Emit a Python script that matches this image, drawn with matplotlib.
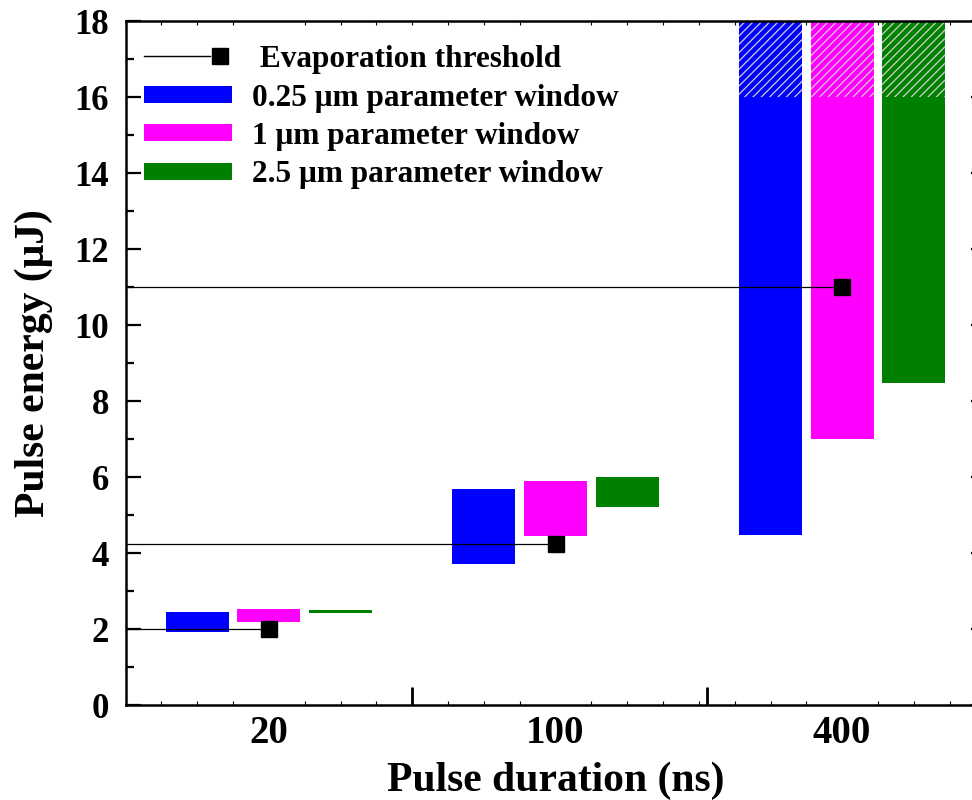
import matplotlib
matplotlib.use("Agg")
import matplotlib.pyplot as plt
from matplotlib.lines import Line2D
from matplotlib.patches import Patch
from matplotlib.legend_handler import HandlerBase
import numpy as np

# ---- data ----
durations = ["20", "100", "400"]
thresholds = [2.0, 4.25, 11.0]
series_labels = ["0.25 \u03bcm parameter window", "1 \u03bcm parameter window", "2.5 \u03bcm parameter window"]
series_colors = ["#0000ff", "#ff00ff", "#008000"]
low_025 = [1.93, 3.71, 4.47]
high_025 = [2.45, 5.68, 16.0]
low_1 = [2.19, 4.45, 7.0]
high_1 = [2.52, 5.90, 16.0]
low_25 = [2.42, 5.20, 8.47]
high_25 = [2.50, 6.01, 16.0]
hatched_top = [np.nan, np.nan, 18.0]   # open-ended part of the window

lows = [low_025, low_1, low_25]
highs = [high_025, high_1, high_25]

plt.rcParams["font.family"] = ["Liberation Serif", "DejaVu Serif"]
plt.rcParams["font.weight"] = "bold"
plt.rcParams["hatch.linewidth"] = 0.9

fig = plt.figure(figsize=(9.72, 8.0), dpi=100)
ax = fig.add_axes([125.5 / 972, 95 / 800, 860 / 972, 684 / 800])

x = np.arange(len(durations))
offsets = [-0.25, 0.0, 0.25]
width = 0.22

for lo, hi, off, col, lab in zip(lows, highs, offsets, series_colors, series_labels):
    lo = np.array(lo); hi = np.array(hi)
    ax.bar(x + off, hi - lo, bottom=lo, width=width, color=col, linewidth=0, zorder=2, label=lab)
    top = np.array(hatched_top)
    ax.bar(x + off, top - hi, bottom=hi, width=width, color=col, edgecolor="#d0d0d0",
           linewidth=0, hatch="////", zorder=2)

xmin = -0.5
ax.hlines(thresholds, xmin, x, color="black", linewidth=0.9, zorder=3)
ax.plot(x, thresholds, linestyle="none", marker="s", markersize=11, color="black", zorder=4)

ax.set_xlim(-0.5, 2.5)
ax.set_ylim(0, 18)

ax.set_yticks(np.arange(0, 19, 2))
ax.set_yticks(np.arange(1, 18, 2), minor=True)
ax.set_xticks(x, durations)
ax.set_xticks(np.arange(-0.5, 2.51, 0.125), minor=True)

ax.tick_params(axis="y", which="major", direction="in", length=11, width=1.6, labelsize=25, pad=12,
               right=True)
ax.tick_params(axis="y", which="minor", direction="in", length=6, width=1.6, right=True)
ax.tick_params(axis="x", which="major", length=0, labelsize=28, pad=7)
ax.tick_params(axis="x", which="minor", direction="in", length=3, width=0.8, top=True)

for lbl in ax.get_xticklabels() + ax.get_yticklabels():
    lbl.set_fontweight("bold")

sec = ax.secondary_xaxis("bottom")
sec.set_xticks([0.5, 1.53])
sec.tick_params(direction="in", length=13, width=2, labelbottom=False)
sec.spines["bottom"].set_visible(False)

for s in ax.spines.values():
    s.set_linewidth(1.8)

ax.set_xlabel("Pulse duration (ns)", fontsize=30, fontweight="bold", labelpad=7)
ax.set_ylabel("Pulse energy (\u03bcJ)", fontsize=30, fontweight="bold", labelpad=15)


class RightMarkerHandler(HandlerBase):
    def create_artists(self, legend, orig_handle, xdescent, ydescent, width, height, fontsize, trans):
        y = height / 2 - ydescent
        line = Line2D([-xdescent, -xdescent + width * 0.75], [y, y], color="black", linewidth=1.0)
        mk = Line2D([-xdescent + width * 0.86], [y], marker="s", markersize=11, color="black",
                    linestyle="none")
        line.set_transform(trans)
        mk.set_transform(trans)
        return [line, mk]


thr_handle = Line2D([], [], color="black")
handles = [thr_handle] + [Patch(facecolor=c, edgecolor="none") for c in series_colors]
labels = [" Evaporation threshold"] + series_labels
leg = ax.legend(handles, labels, loc="upper left", bbox_to_anchor=(0.0, 0.992), frameon=False,
                prop={"size": 22.5, "weight": "bold"}, handlelength=2.8, handleheight=0.45,
                handletextpad=0.65, labelspacing=0.3, borderaxespad=0.2, borderpad=0.4,
                handler_map={thr_handle: RightMarkerHandler()})

fig.savefig("out.png", dpi=100)
